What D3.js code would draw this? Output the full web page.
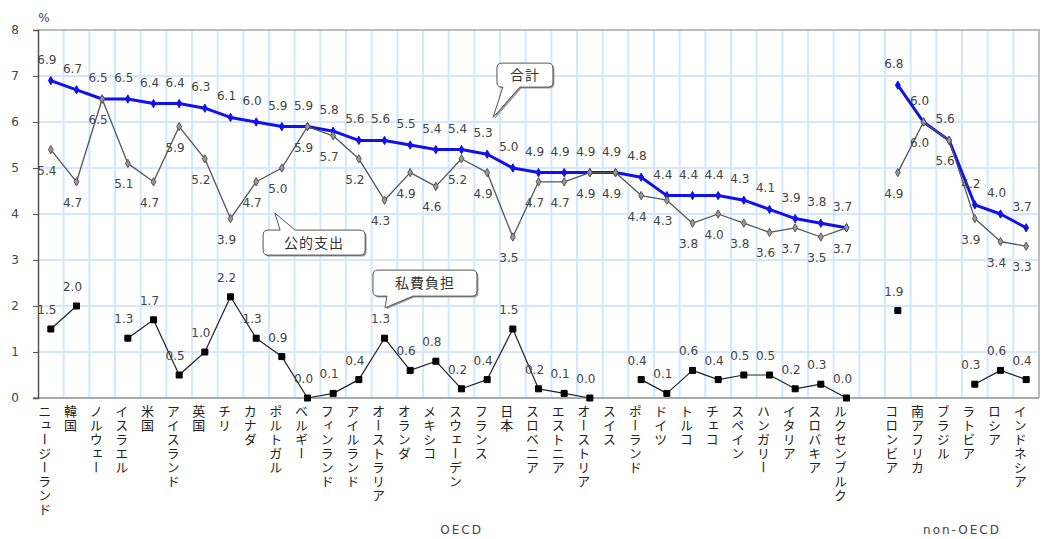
<!DOCTYPE html>
<html lang="ja">
  <head>
    <meta charset="UTF-8" />
    <title>教育支出の対GDP比</title>
    <script src="https://d3js.org/d3.v7.min.js"></script>
    <style>
      body {
        margin: 0;
        background: #fff;
      }
      svg text {
        font-family: 'Noto Sans CJK JP', 'DejaVu Sans', sans-serif;
      }
      .num {
        font-family: 'DejaVu Sans', sans-serif !important;
        font-size: 12px;
        fill: #444;
      }
    </style>
  </head>
  <body>
    <div id="chart"></div>
    <script>
      // 国名
      const oecd = [
        'ニュージーランド', '韓国', 'ノルウェー', 'イスラエル', '米国',
        'アイスランド', '英国', 'チリ', 'カナダ', 'ポルトガル', 'ベルギー',
        'フィンランド', 'アイルランド', 'オーストラリア', 'オランダ',
        'メキシコ', 'スウェーデン', 'フランス', '日本', 'スロベニア',
        'エストニア', 'オーストリア', 'スイス', 'ポーランド', 'ドイツ',
        'トルコ', 'チェコ', 'スペイン', 'ハンガリー', 'イタリア',
        'スロバキア', 'ルクセンブルク',
      ];
      const nonOecd = ['コロンビア', '南アフリカ', 'ブラジル', 'ラトビア', 'ロシア', 'インドネシア'];
      const categories = oecd.concat([''], nonOecd);

      // 合計
      const total = [
        6.9, 6.7, 6.5, 6.5, 6.4, 6.4, 6.3, 6.1, 6.0, 5.9, 5.9, 5.8, 5.6, 5.6,
        5.5, 5.4, 5.4, 5.3, 5.0, 4.9, 4.9, 4.9, 4.9, 4.8, 4.4, 4.4, 4.4, 4.3,
        4.1, 3.9, 3.8, 3.7,
        null,
        6.8, 6.0, 5.6, 4.2, 4.0, 3.7,
      ];
      // 公的支出
      const publicExp = [
        5.4, 4.7, 6.5, 5.1, 4.7, 5.9, 5.2, 3.9, 4.7, 5.0, 5.9, 5.7, 5.2, 4.3,
        4.9, 4.6, 5.2, 4.9, 3.5, 4.7, 4.7, 4.9, 4.9, 4.4, 4.3, 3.8, 4.0, 3.8,
        3.6, 3.7, 3.5, 3.7,
        null,
        4.9, 6.0, 5.6, 3.9, 3.4, 3.3,
      ];
      // 私費負担
      const privateExp = [
        1.5, 2.0, null, 1.3, 1.7, 0.5, 1.0, 2.2, 1.3, 0.9, 0.0, 0.1, 0.4, 1.3,
        0.6, 0.8, 0.2, 0.4, 1.5, 0.2, 0.1, 0.0, null, 0.4, 0.1, 0.6, 0.4, 0.5,
        0.5, 0.2, 0.3, 0.0,
        null,
        1.9, null, null, 0.3, 0.6, 0.4,
      ];
      const yTicks = [0, 1, 2, 3, 4, 5, 6, 7, 8];

      const W = 1042;
      const H = 539;
      const mLeft = 38;
      const mRight = 1039;
      const mTop = 30;
      const mBottom = 398;

      const svg = d3
        .select('#chart')
        .append('svg')
        .attr('width', W)
        .attr('height', H);

      const x = d3
        .scaleBand()
        .domain(categories)
        .range([mLeft, mRight])
        .padding(0);
      const y = d3.scaleLinear().domain([0, 8]).range([mBottom, mTop]);
      const cx = (i) => x(categories[i]) + x.bandwidth() / 2;
      // fractional slot position (for callouts)
      const pos = (i) => mLeft + i * x.step();

      // grid
      svg
        .append('g')
        .selectAll('line')
        .data(categories.slice(1))
        .enter()
        .append('line')
        .attr('x1', (d) => x(d))
        .attr('x2', (d) => x(d))
        .attr('y1', mTop)
        .attr('y2', mBottom)
        .attr('stroke', '#d3e8ff')
        .attr('stroke-width', 2);

      svg
        .append('g')
        .selectAll('line')
        .data(yTicks.slice(1, -1))
        .enter()
        .append('line')
        .attr('x1', mLeft)
        .attr('x2', mRight)
        .attr('y1', (d) => y(d))
        .attr('y2', (d) => y(d))
        .attr('stroke', '#d3e8ff')
        .attr('stroke-width', 2);

      // frame
      svg
        .append('path')
        .attr('d', `M${mLeft},${mTop}H${mRight}V${mBottom}`)
        .attr('fill', 'none')
        .attr('stroke', '#bdbdbd')
        .attr('stroke-width', 2);
      svg
        .append('line')
        .attr('x1', mLeft - 5)
        .attr('x2', mRight)
        .attr('y1', mBottom)
        .attr('y2', mBottom)
        .attr('stroke', '#aaa')
        .attr('stroke-width', 2);

      // y axis
      const yAxis = svg
        .append('g')
        .attr('transform', `translate(${mLeft},0)`)
        .call(d3.axisLeft(y).tickValues(yTicks).tickSize(5).tickFormat(d3.format('d')));
      yAxis.select('.domain').attr('stroke', '#555').attr('stroke-width', 1.5);
      yAxis.selectAll('.tick line').attr('stroke', '#555');
      yAxis
        .selectAll('.tick text')
        .attr('x', -23)
        .attr('text-anchor', 'middle')
        .style('font-family', 'DejaVu Sans, sans-serif')
        .style('font-size', '12px')
        .attr('fill', '#444');

      svg
        .append('text')
        .attr('x', 44)
        .attr('y', 22)
        .attr('text-anchor', 'middle')
        .style('font-family', 'DejaVu Sans, sans-serif')
        .style('font-size', '12px')
        .attr('fill', '#444')
        .text('%');

      // x labels (vertical)
      svg
        .append('g')
        .selectAll('text')
        .data(categories.filter((d) => d !== ''))
        .enter()
        .append('text')
        .attr('x', (d) => x(d) + x.bandwidth() / 2 - 6)
        .attr('y', 405)
        .style('writing-mode', 'vertical-rl')
        .style('font-size', '13px')
        .style('letter-spacing', '1px')
        .attr('fill', '#222')
        .text((d) => d);

      svg
        .append('text')
        .attr('x', (cx(0) + cx(oecd.length - 1)) / 2 + 13)
        .attr('y', 534)
        .attr('text-anchor', 'middle')
        .style('font-family', 'DejaVu Sans, sans-serif')
        .style('font-size', '12px')
        .style('letter-spacing', '2px')
        .attr('fill', '#444')
        .text('OECD');
      svg
        .append('text')
        .attr('x', (cx(oecd.length + 1) + cx(categories.length - 1)) / 2)
        .attr('y', 534)
        .attr('text-anchor', 'middle')
        .style('font-family', 'DejaVu Sans, sans-serif')
        .style('font-size', '12px')
        .style('letter-spacing', '2px')
        .attr('fill', '#444')
        .text('non-OECD');

      const line = d3
        .line()
        .defined((d) => d != null)
        .x((d, i) => cx(i))
        .y((d) => y(d));

      function series(values, color, width, symbol, size, fill, stroke) {
        const g = svg.append('g');
        g.append('path')
          .datum(values)
          .attr('d', line)
          .attr('fill', 'none')
          .attr('stroke', color)
          .attr('stroke-width', width)
          .attr('stroke-linejoin', 'round');
        g.selectAll('path.m')
          .data(values.map((v, i) => ({ v, i })).filter((d) => d.v != null))
          .enter()
          .append('path')
          .attr('class', 'm')
          .attr('d', d3.symbol().type(symbol).size(size))
          .attr('transform', (d) => `translate(${cx(d.i)},${y(d.v)})`)
          .attr('fill', fill)
          .attr('stroke', stroke)
          .attr('stroke-width', 1);
        return g;
      }

      function labels(values, dy) {
        svg
          .append('g')
          .selectAll('text')
          .data(values.map((v, i) => ({ v, i })).filter((d) => d.v != null))
          .enter()
          .append('text')
          .attr('class', 'num')
          .attr('x', (d) => cx(d.i) - 4)
          .attr('y', (d) => y(d.v) + dy)
          .attr('text-anchor', 'middle')
          .text((d) => d.v.toFixed(1));
      }

      series(total, '#1010f0', 3, d3.symbolDiamond, 20, '#1010f0', '#1010f0');
      series(publicExp, '#555', 1.3, d3.symbolDiamond, 20, '#999', '#555');
      series(privateExp, '#222', 1.2, d3.symbolSquare, 36, '#000', '#000');

      labels(total, -17);
      labels(publicExp, 25);
      labels(privateExp, -15);

      // callouts
      const callouts = [
        { text: '合計', bx: 17.88, by: 7.28, w: 56, h: 24, side: 'bottom', b1: 6, b2: 23, ti: 17.73, tv: 6.1 },
        { text: '公的支出', bx: 8.77, by: 3.65, w: 102, h: 25, side: 'top', b1: 17, b2: 32, ti: 9.23, tv: 4.02 },
        { text: '私費負担', bx: 13.05, by: 2.78, w: 104, h: 26, side: 'bottom', b1: 14, b2: 40, ti: 13.52, tv: 1.96 },
      ];

      function calloutPath(c) {
        const X = pos(c.bx);
        const Y = y(c.by);
        const r = 5;
        const tx = pos(c.ti);
        const ty = y(c.tv);
        let p = `M${X + r},${Y}`;
        if (c.side === 'top') {
          p += `L${X + c.b1},${Y}L${tx},${ty}L${X + c.b2},${Y}`;
        }
        p += `L${X + c.w - r},${Y}Q${X + c.w},${Y} ${X + c.w},${Y + r}`;
        p += `L${X + c.w},${Y + c.h - r}Q${X + c.w},${Y + c.h} ${X + c.w - r},${Y + c.h}`;
        if (c.side === 'bottom') {
          p += `L${X + c.b2},${Y + c.h}L${tx},${ty}L${X + c.b1},${Y + c.h}`;
        }
        p += `L${X + r},${Y + c.h}Q${X},${Y + c.h} ${X},${Y + c.h - r}`;
        p += `L${X},${Y + r}Q${X},${Y} ${X + r},${Y}Z`;
        return p;
      }

      const cg = svg.append('g');
      callouts.forEach(function (c) {
        cg.append('path')
          .attr('d', calloutPath(c))
          .attr('transform', 'translate(1.5,1.5)')
          .attr('fill', '#999');
        cg.append('path')
          .attr('d', calloutPath(c))
          .attr('fill', '#fff')
          .attr('stroke', '#555')
          .attr('stroke-width', 1);
        cg.append('text')
          .attr('x', pos(c.bx) + c.w / 2)
          .attr('y', y(c.by) + c.h / 2 + 5)
          .attr('text-anchor', 'middle')
          .style('font-size', '14px')
          .style('letter-spacing', '1px')
          .attr('fill', '#333')
          .text(c.text);
      });
    </script>
  </body>
</html>
